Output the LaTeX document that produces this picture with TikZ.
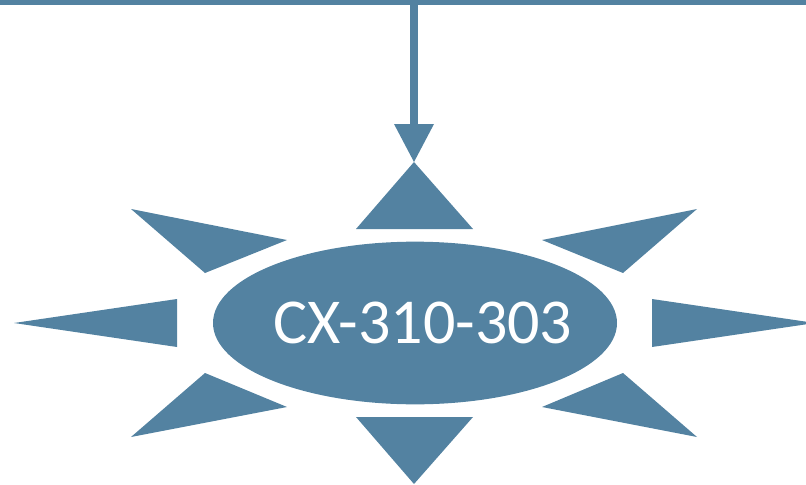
\documentclass[tikz,border=0pt]{standalone}
\usepackage{fontspec}
\setmainfont{Carlito}
\usetikzlibrary{shapes.geometric}
\definecolor{steel}{RGB}{83,130,161}
\tikzset{
  ray/.style={fill=steel, draw=none},
  hubshape/.style={ellipse, fill=steel, draw=none, minimum width=404, minimum height=163, inner sep=0pt},
  hublabel/.style={text=white, font=\fontsize{48}{48}\selectfont},
  wire/.style={draw=steel, line width=6pt}
}
\begin{document}
\begin{tikzpicture}[x=0.75pt,y=-0.75pt]
\useasboundingbox (0,0) rectangle (806,485);
% top bus and drop line
\fill[steel] (0,0) rectangle (806,5.5);
\coordinate (drop) at (414,0);
\coordinate (headtop) at (414,124);
\fill[steel] (410,0) rectangle (418,125);
\fill[ray] (394,124) -- (434,124) -- (414,162) -- cycle;
% hub
\node[hubshape, minimum width=303pt, minimum height=122pt] (hub) at (415,323) {};
\node[hublabel] (label) at (423,323) {CX-310-303};
% rays
\fill[ray] (414,162) -- (356,229) -- (473,229) -- cycle;
\fill[ray] (356,417) -- (473,417) -- (414,484) -- cycle;
\fill[ray] (131,209) -- (287,240) -- (205,273) -- cycle;
\fill[ray] (697,209) -- (542,240) -- (623,273) -- cycle;
\fill[ray] (14,323) -- (177,299) -- (177,347) -- cycle;
\fill[ray] (815,323) -- (652,299) -- (652,347) -- cycle;
\fill[ray] (205,373) -- (287,407) -- (131,437) -- cycle;
\fill[ray] (623,373) -- (542,407) -- (697,437) -- cycle;
\end{tikzpicture}
\end{document}
